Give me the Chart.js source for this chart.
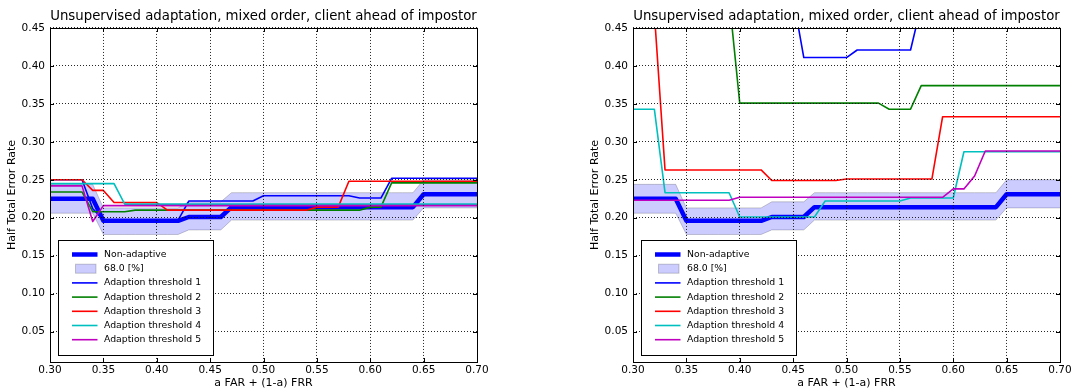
<!DOCTYPE html>
<html>
<head>
<meta charset="utf-8">
<script src="https://cdn.jsdelivr.net/npm/chart.js@4.4.0/dist/chart.umd.min.js"></script>
<style>
  body { margin: 0; background: #fff; }
  #wrap { position: relative; width: 1076px; height: 392px; background: #fff; }
  .panel { position: absolute; top: 0; width: 493px; height: 392px; }
  #left-panel { left: 0; }
  #right-panel { left: 583px; }
</style>
</head>
<body>
<div id="wrap">
  <div class="panel" id="left-panel"><canvas id="left-chart" width="493" height="392"></canvas></div>
  <div class="panel" id="right-panel"><canvas id="right-chart" width="493" height="392"></canvas></div>
</div>
<script>
// x values: a FAR + (1-a) FRR
const far = [
  0.30, 0.31, 0.32, 0.33, 0.34, 0.35, 0.36, 0.37, 0.38, 0.39,
  0.40, 0.41, 0.42, 0.43, 0.44, 0.45, 0.46, 0.47, 0.48, 0.49,
  0.50, 0.51, 0.52, 0.53, 0.54, 0.55, 0.56, 0.57, 0.58, 0.59,
  0.60, 0.61, 0.62, 0.63, 0.64, 0.65, 0.66, 0.67, 0.68, 0.69,
  0.70,
];

const xTicks = [0.30, 0.35, 0.40, 0.45, 0.50, 0.55, 0.60, 0.65, 0.70];
const yTicks = [0.05, 0.10, 0.15, 0.20, 0.25, 0.30, 0.35, 0.40, 0.45];

// Non-adaptive HTER and its 68% band (same in both panels)
const nonAdaptive = [
  0.225, 0.225, 0.225, 0.225, 0.225, 0.196, 0.196, 0.196, 0.196, 0.196,
  0.196, 0.196, 0.196, 0.201, 0.201, 0.201, 0.201, 0.214, 0.214, 0.214,
  0.214, 0.214, 0.214, 0.214, 0.214, 0.214, 0.214, 0.214, 0.214, 0.214,
  0.214, 0.214, 0.214, 0.214, 0.214, 0.231, 0.231, 0.231, 0.231, 0.231,
  0.231,
];
const bandLow = [
  0.206, 0.206, 0.206, 0.206, 0.206, 0.178, 0.178, 0.178, 0.178, 0.178,
  0.178, 0.178, 0.178, 0.184, 0.184, 0.184, 0.184, 0.197, 0.197, 0.197,
  0.197, 0.197, 0.197, 0.197, 0.197, 0.197, 0.197, 0.197, 0.197, 0.197,
  0.197, 0.197, 0.197, 0.197, 0.197, 0.213, 0.213, 0.213, 0.213, 0.213,
  0.213,
];
const bandHigh = [
  0.244, 0.244, 0.244, 0.244, 0.244, 0.213, 0.213, 0.213, 0.213, 0.213,
  0.213, 0.213, 0.213, 0.221, 0.221, 0.221, 0.221, 0.233, 0.233, 0.233,
  0.233, 0.233, 0.233, 0.233, 0.233, 0.233, 0.233, 0.233, 0.233, 0.233,
  0.233, 0.233, 0.233, 0.233, 0.233, 0.250, 0.250, 0.250, 0.250, 0.250,
  0.250,
];

// Left panel thresholds
const leftT1 = [
  0.250, 0.250, 0.250, 0.250, 0.212, 0.197, 0.197, 0.197, 0.197, 0.197,
  0.197, 0.197, 0.197, 0.222, 0.222, 0.222, 0.222, 0.222, 0.222, 0.222,
  0.229, 0.229, 0.229, 0.229, 0.229, 0.229, 0.229, 0.229, 0.229, 0.226,
  0.226, 0.226, 0.252, 0.252, 0.252, 0.252, 0.252, 0.252, 0.252, 0.252,
  0.252,
];
const leftT2 = [
  0.234, 0.234, 0.234, 0.234, 0.208, 0.208, 0.208, 0.208, 0.210, 0.210,
  0.210, 0.210, 0.210, 0.210, 0.210, 0.210, 0.210, 0.210, 0.210, 0.210,
  0.210, 0.210, 0.210, 0.210, 0.210, 0.210, 0.210, 0.210, 0.210, 0.210,
  0.214, 0.214, 0.246, 0.246, 0.246, 0.246, 0.246, 0.246, 0.246, 0.246,
  0.246,
];
const leftT3 = [
  0.250, 0.250, 0.250, 0.250, 0.236, 0.236, 0.220, 0.220, 0.220, 0.220,
  0.220, 0.210, 0.210, 0.210, 0.210, 0.210, 0.210, 0.210, 0.210, 0.210,
  0.210, 0.210, 0.210, 0.210, 0.210, 0.214, 0.214, 0.214, 0.248, 0.248,
  0.248, 0.248, 0.248, 0.248, 0.248, 0.248, 0.248, 0.248, 0.248, 0.248,
  0.248,
];
const leftT4 = [
  0.245, 0.245, 0.245, 0.245, 0.245, 0.245, 0.245, 0.218, 0.218, 0.218,
  0.218, 0.218, 0.218, 0.218, 0.218, 0.218, 0.218, 0.218, 0.218, 0.218,
  0.218, 0.218, 0.218, 0.218, 0.218, 0.218, 0.218, 0.218, 0.218, 0.218,
  0.218, 0.218, 0.218, 0.218, 0.218, 0.218, 0.218, 0.218, 0.218, 0.218,
  0.218,
];
const leftT5 = [
  0.242, 0.242, 0.242, 0.242, 0.195, 0.216, 0.216, 0.216, 0.216, 0.216,
  0.216, 0.216, 0.216, 0.216, 0.216, 0.216, 0.216, 0.216, 0.216, 0.216,
  0.216, 0.216, 0.216, 0.216, 0.216, 0.216, 0.216, 0.216, 0.216, 0.216,
  0.216, 0.216, 0.216, 0.216, 0.216, 0.216, 0.216, 0.216, 0.216, 0.216,
  0.216,
];

// Right panel thresholds (values above 0.45 run off the top of the plot)
const rightT1 = [
  0.490, 0.490, 0.490, 0.490, 0.490, 0.490, 0.490, 0.490, 0.490, 0.490,
  0.490, 0.490, 0.490, 0.490, 0.490, 0.490, 0.411, 0.411, 0.411, 0.411,
  0.411, 0.421, 0.421, 0.421, 0.421, 0.421, 0.421, 0.480, 0.480, 0.480,
  0.480, 0.480, 0.480, 0.480, 0.480, 0.480, 0.480, 0.480, 0.480, 0.480,
  0.480,
];
const rightT2 = [
  0.490, 0.490, 0.490, 0.490, 0.490, 0.490, 0.490, 0.490, 0.490, 0.490,
  0.351, 0.351, 0.351, 0.351, 0.351, 0.351, 0.351, 0.351, 0.351, 0.351,
  0.351, 0.351, 0.351, 0.351, 0.343, 0.343, 0.343, 0.374, 0.374, 0.374,
  0.374, 0.374, 0.374, 0.374, 0.374, 0.374, 0.374, 0.374, 0.374, 0.374,
  0.374,
];
const rightT3 = [
  0.470, 0.470, 0.470, 0.263, 0.263, 0.263, 0.263, 0.263, 0.263, 0.263,
  0.263, 0.263, 0.263, 0.249, 0.249, 0.249, 0.249, 0.249, 0.249, 0.249,
  0.251, 0.251, 0.251, 0.251, 0.251, 0.251, 0.251, 0.251, 0.251, 0.333,
  0.333, 0.333, 0.333, 0.333, 0.333, 0.333, 0.333, 0.333, 0.333, 0.333,
  0.333,
];
const rightT4 = [
  0.343, 0.343, 0.343, 0.233, 0.233, 0.233, 0.233, 0.233, 0.233, 0.233,
  0.201, 0.201, 0.201, 0.201, 0.201, 0.201, 0.201, 0.201, 0.222, 0.222,
  0.222, 0.222, 0.222, 0.222, 0.222, 0.222, 0.226, 0.226, 0.226, 0.226,
  0.226, 0.287, 0.287, 0.287, 0.287, 0.287, 0.287, 0.287, 0.287, 0.287,
  0.287,
];
const rightT5 = [
  0.223, 0.223, 0.223, 0.223, 0.223, 0.223, 0.223, 0.223, 0.223, 0.223,
  0.227, 0.227, 0.227, 0.227, 0.227, 0.227, 0.227, 0.227, 0.227, 0.227,
  0.227, 0.227, 0.227, 0.227, 0.227, 0.227, 0.227, 0.227, 0.227, 0.227,
  0.238, 0.238, 0.255, 0.288, 0.288, 0.288, 0.288, 0.288, 0.288, 0.288,
  0.288,
];

const titleText = "Unsupervised adaptation, mixed order, client ahead of impostor";
const thresholdColors = ["#0000ff", "#008000", "#ff0000", "#00bfbf", "#bf00bf"];
const FONT = "'DejaVu Sans', sans-serif";

Chart.defaults.font.family = FONT;
Chart.defaults.color = "#000";

const toPoints = (values) => far.map((x, i) => ({ x: x, y: values[i] }));

// Datasets: non-adaptive, band low, band high, thresholds 1..5
// (order makes threshold 5 draw on top, non-adaptive at the bottom)
const buildDatasets = (thresholds) => [
  { label: "Non-adaptive", data: toPoints(nonAdaptive), borderColor: "#0000ff", borderWidth: 4.5, order: 7 },
  { label: "band-low", data: toPoints(bandLow), borderColor: "rgba(0,0,0,0.2)", borderWidth: 1, fill: false, order: 6 },
  { label: "68.0 [%]", data: toPoints(bandHigh), borderColor: "rgba(0,0,0,0.2)", borderWidth: 1,
    backgroundColor: "rgba(0,0,255,0.2)", fill: "-1", order: 5 },
  ...thresholds.map((values, i) => ({
    label: `Adaption threshold ${i + 1}`,
    data: toPoints(values),
    borderColor: thresholdColors[i],
    borderWidth: 1.6,
    order: 4 - i,
  })),
];

// Frame, inward tick marks and the inset legend
const framePlugin = {
  id: "frame",
  afterDraw(chart) {
    const { ctx, chartArea, scales } = chart;
    const { left, right, top, bottom } = chartArea;
    ctx.save();
    ctx.strokeStyle = "#000";
    ctx.lineWidth = 1;
    ctx.setLineDash([]);
    ctx.beginPath();
    for (const v of xTicks) {
      const px = Math.round(scales.x.getPixelForValue(v)) + 0.5;
      ctx.moveTo(px, bottom); ctx.lineTo(px, bottom - 4);
      ctx.moveTo(px, top); ctx.lineTo(px, top + 4);
    }
    for (const v of yTicks) {
      const py = Math.round(scales.y.getPixelForValue(v)) + 0.5;
      ctx.moveTo(left, py); ctx.lineTo(left + 4, py);
      ctx.moveTo(right, py); ctx.lineTo(right - 4, py);
    }
    ctx.stroke();
    ctx.strokeRect(Math.round(left) + 0.5, Math.round(top) + 0.5,
      Math.round(right) - Math.round(left), Math.round(bottom) - Math.round(top));

    // legend box
    const ds = chart.data.datasets;
    const entries = [ds[0], ds[2], ds[3], ds[4], ds[5], ds[6], ds[7]];
    const bx = Math.round(left) + 8.5;
    const by = Math.round(bottom) - 121.5;
    ctx.fillStyle = "#fff";
    ctx.fillRect(bx, by, 155, 115);
    ctx.strokeStyle = "#000";
    ctx.strokeRect(bx, by, 155, 115);
    ctx.font = `9.3px ${FONT}`;
    ctx.textBaseline = "middle";
    ctx.textAlign = "left";
    entries.forEach((item, i) => {
      const cy = by + 14 + i * 14.2;
      if (item.fill === "-1") {
        ctx.fillStyle = item.backgroundColor;
        ctx.fillRect(bx + 17, cy - 4.5, 20.5, 9);
        ctx.strokeStyle = item.borderColor;
        ctx.strokeRect(bx + 17, cy - 4.5, 20.5, 9);
      } else {
        ctx.strokeStyle = item.borderColor;
        ctx.lineWidth = item.borderWidth;
        ctx.beginPath();
        ctx.moveTo(bx + 13.5, cy);
        ctx.lineTo(bx + 39, cy);
        ctx.stroke();
        ctx.lineWidth = 1;
      }
      ctx.fillStyle = "#000";
      ctx.fillText(item.label, bx + 45.5, cy);
    });
    ctx.restore();
  },
};

const gridOpts = { color: "rgba(0,0,0,0.85)", lineWidth: 1, drawTicks: false, z: 1, borderDash: [1, 2] };
const borderOpts = { display: false, dash: [1, 2] };

const renderPanel = (canvasId, thresholds) => {
  const canvas = document.querySelector(canvasId);
  return new Chart(canvas, {
    type: "line",
    data: { datasets: buildDatasets(thresholds) },
    options: {
      responsive: false,
      animation: false,
      devicePixelRatio: 1,
      layout: { padding: { left: 0, right: 16, top: 0, bottom: 0 } },
      elements: {
        point: { radius: 0 },
        line: { tension: 0, borderJoinStyle: "round", fill: false },
      },
      plugins: {
        legend: { display: false },
        tooltip: { enabled: false },
        title: {
          display: true,
          text: titleText,
          fullSize: false,
          color: "#000",
          font: { family: FONT, size: 13.3, weight: "normal" },
          padding: { top: 9, bottom: 3 },
        },
      },
      scales: {
        x: {
          type: "linear",
          min: 0.30,
          max: 0.70,
          afterBuildTicks: (scale) => { scale.ticks = xTicks.map((v) => ({ value: v })); },
          afterFit: (scale) => { scale.height = 30; },
          ticks: { callback: (v) => v.toFixed(2), font: { size: 10.5 }, color: "#000", padding: 2, maxRotation: 0, autoSkip: false },
          grid: gridOpts,
          border: borderOpts,
          title: { display: true, text: "a FAR + (1-a) FRR", color: "#000", font: { size: 11 }, padding: { top: 0, bottom: 2 } },
        },
        y: {
          type: "linear",
          min: 0.01,
          max: 0.45,
          afterBuildTicks: (scale) => { scale.ticks = yTicks.map((v) => ({ value: v })); },
          afterFit: (scale) => { scale.width = 50; },
          ticks: { callback: (v) => v.toFixed(2), font: { size: 10.5 }, color: "#000", padding: 5, autoSkip: false },
          grid: gridOpts,
          border: borderOpts,
          title: { display: true, text: "Half Total Error Rate", color: "#000", font: { size: 11 }, padding: { top: 6, bottom: 0 } },
        },
      },
    },
    plugins: [framePlugin],
  });
};

renderPanel("#left-chart", [leftT1, leftT2, leftT3, leftT4, leftT5]);
renderPanel("#right-chart", [rightT1, rightT2, rightT3, rightT4, rightT5]);
</script>
</body>
</html>
